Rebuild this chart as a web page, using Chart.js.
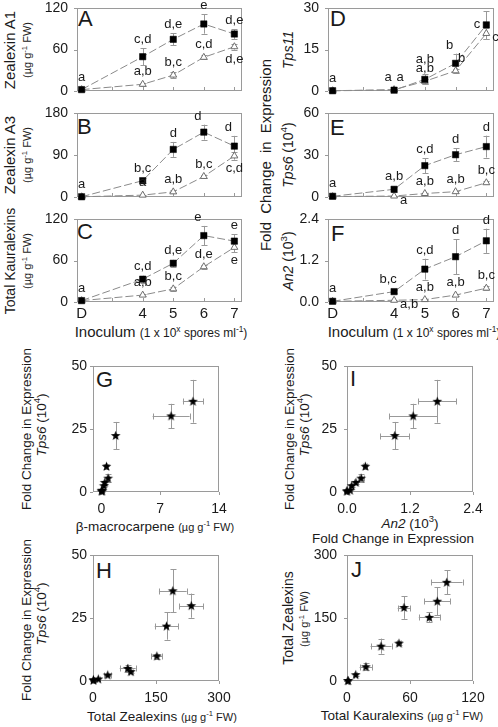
<!DOCTYPE html>
<html>
<head>
<meta charset="utf-8">
<script src="https://cdn.jsdelivr.net/npm/chart.js@4"></script>
<style>
body { margin: 0; background: #fff; font-family: "Liberation Sans", Arial, sans-serif; color: #1a1a1a; }
#fig { position: relative; width: 498px; height: 727px; overflow: hidden; }
canvas { position: absolute; }
.t { position: absolute; white-space: nowrap; transform: translate(-50%, -50%); line-height: 1.2; }
.v { transform: translate(-50%, -50%) rotate(-90deg); }
.sm { font-size: 11px; }
.lt { position: absolute; font-size: 22px; line-height: 1; }
sup { font-size: 70%; line-height: 0; }
</style>
</head>
<body>
<div id="fig">
  <!-- left column y titles -->
  <div class="t v" style="left:10px;top:50px;font-size:15px">Zealexin A1</div>
  <div class="t v sm" style="left:28px;top:50px">(µg g<sup>-1</sup> FW)</div>
  <div class="t v" style="left:10px;top:155px;font-size:15px">Zealexin A3</div>
  <div class="t v sm" style="left:28px;top:155px">(µg g<sup>-1</sup> FW)</div>
  <div class="t v" style="left:10px;top:261px;font-size:14px">Total Kauralexins</div>
  <div class="t v sm" style="left:28px;top:261px">(µg g<sup>-1</sup> FW)</div>
  <!-- right column y titles -->
  <div class="t v" style="left:266px;top:155px;font-size:15px;word-spacing:4px">Fold Change in Expression</div>
  <div class="t v" style="left:288px;top:50px;font-size:14px"><i>Tps11</i></div>
  <div class="t v" style="left:288px;top:155px;font-size:14px"><i>Tps6</i> (10<sup>4</sup>)</div>
  <div class="t v" style="left:288px;top:261px;font-size:14px"><i>An2</i> (10<sup>3</sup>)</div>
  <!-- inoculum titles -->
  <div class="t" style="left:161px;top:332px;font-size:15px">Inoculum <span style="font-size:12px">(1 x 10<sup>x</sup> spores ml<sup>-1</sup>)</span></div>
  <div class="t" style="left:414px;top:332px;font-size:15px">Inoculum <span style="font-size:12px">(1 x 10<sup>x</sup> spores ml<sup>-1</sup>)</span></div>
  <!-- scatter titles -->
  <div class="t v" style="left:27px;top:429px;font-size:13.5px">Fold Change in Expression</div>
  <div class="t v" style="left:42px;top:425px;font-size:13.5px"><i>Tps6</i> (10<sup>4</sup>)</div>
  <div class="t v" style="left:290px;top:429px;font-size:13.5px">Fold Change in Expression</div>
  <div class="t v" style="left:305px;top:425px;font-size:13.5px"><i>Tps6</i> (10<sup>4</sup>)</div>
  <div class="t v" style="left:27px;top:620px;font-size:13.5px">Fold Change in Expression</div>
  <div class="t v" style="left:42px;top:614px;font-size:13.5px"><i>Tps6</i> (10<sup>4</sup>)</div>
  <div class="t v" style="left:288px;top:618px;font-size:14px">Total Zealexins</div>
  <div class="t v sm" style="left:305px;top:619px">(µg g<sup>-1</sup> FW)</div>
  <div class="t" style="left:155px;top:527px;font-size:13.5px">β-macrocarpene <span class="sm">(µg g<sup>-1</sup> FW)</span></div>
  <div class="t" style="left:410px;top:524px;font-size:13.5px"><i>An2</i> (10<sup>3</sup>)</div>
  <div class="t" style="left:393px;top:539px;font-size:13.5px">Fold Change in Expression</div>
  <div class="t" style="left:162px;top:717px;font-size:13.5px">Total Zealexins <span class="sm">(µg g<sup>-1</sup> FW)</span></div>
  <div class="t" style="left:402px;top:716px;font-size:13.5px">Total Kauralexins <span class="sm">(µg g<sup>-1</sup> FW)</span></div>
  <!-- panel letters -->
  <div class="lt" style="left:78px;top:8px">A</div>
  <div class="lt" style="left:77px;top:116px">B</div>
  <div class="lt" style="left:77px;top:221px">C</div>
  <div class="lt" style="left:330px;top:8px">D</div>
  <div class="lt" style="left:330px;top:117px">E</div>
  <div class="lt" style="left:331px;top:223px">F</div>
  <div class="lt" style="left:96px;top:369px">G</div>
  <div class="lt" style="left:350px;top:368px">I</div>
  <div class="lt" style="left:96px;top:560px">H</div>
  <div class="lt" style="left:351px;top:559px">J</div>
</div>
<script>
// inoculum axis: 2 stands for D (mock), the rest are log10 spores per ml
const inoculum = [2, 4, 5, 6, 7];
const inoculumTicks = [2, 3, 4, 5, 6, 7];
const inoculumLabels = ['D', '', '4', '5', '6', '7'];

// A - zealexin A1
const a1Sq = [2, 49.6, 74.7, 96.9, 82.4];
const a1SqErr = [1, 12, 8.7, 14, 7];
const a1Tri = [2, 9.7, 23, 48.7, 64];
const a1TriErr = [1, 2, 4, 3, 4];
const a1SqLetters = ['a', 'c,d', 'd,e', 'e', 'd,e'];
const a1TriLetters = ['', 'a,b', 'b,c', 'c,d', 'd,e'];

// B - zealexin A3
const a3Sq = [0.5, 35, 102, 139, 109];
const a3SqErr = [0.5, 5, 16, 16, 22];
const a3Tri = [0.5, 4, 11, 44, 88];
const a3TriErr = [0.3, 1, 3, 4, 8];
const a3SqLetters = ['a', 'b,c', 'd', 'd', 'd'];
const a3TriLetters = ['', 'a', 'a,b', 'b,c', 'c,d'];

// C - total kauralexins
const kSq = [2, 33, 56, 96, 88];
const kSqErr = [1, 5, 5, 14, 10];
const kTri = [2, 10, 19, 51, 79];
const kTriErr = [1, 2, 3, 3, 7];
const kSqLetters = ['a', 'c,d', 'd,e', 'e', 'e'];
const kTriLetters = ['', 'a,b', 'b,c', 'd,e', 'e'];

// D - Tps11
const tps11Sq = [0.1, 0.3, 4.2, 10, 23.9];
const tps11SqErr = [0.1, 0.3, 1.8, 3.5, 5];
const tps11Tri = [0.1, 0.5, 3.5, 7.3, 20.8];
const tps11TriErr = [0.1, 0.3, 1, 0.8, 2];
const tps11SqLetters = ['a', 'a', 'a,b', 'b', 'c'];
const tps11TriLetters = ['', 'a', 'a,b', 'b', 'c'];

// E - Tps6 (x 10^4)
const tps6Sq = [0.5, 5.5, 22.4, 30.2, 36];
const tps6SqErr = [0.3, 2, 5.4, 4.8, 7.8];
const tps6Tri = [0.3, 0.7, 2.5, 3.8, 10.2];
const tps6TriErr = [0.2, 0.3, 0.5, 0.7, 1.2];
const tps6SqLetters = ['a', 'a,b', 'c,d', 'd', 'd'];
const tps6TriLetters = ['', 'a', 'a,b', 'a,b', 'b,c'];

// F - An2 (x 10^3)
const an2Sq = [0.02, 0.3, 0.95, 1.31, 1.77];
const an2SqErr = [0.01, 0.05, 0.3, 0.5, 0.35];
const an2Tri = [0.02, 0.05, 0.07, 0.2, 0.4];
const an2TriErr = [0.01, 0.02, 0.02, 0.04, 0.05];
const an2SqLetters = ['a', 'b,c', 'c,d', 'd', 'd'];
const an2TriLetters = ['', 'a,b', 'a,b', 'a,b', 'b,c'];

// scatter samples: squares D..7 then triangles D..7
const gMacro = [0.05, 0.8, 1.7, 8.3, 10.9, 0.05, 0.05, 0.3, 0.4, 0.6];
const gMacroErr = [0, 0.1, 0, 2.2, 1.2, 0, 0, 0, 0, 0.1];
const tps6All = [0.5, 5.5, 22.4, 30.2, 36, 0.3, 0.7, 2.5, 3.8, 10.2];
const tps6AllErr = [0.3, 1.5, 5.4, 4.8, 8.5, 0.2, 0.3, 0.5, 0.7, 1];
const iAn2 = [0, 0.27, 0.91, 1.26, 1.72, 0, 0.06, 0.09, 0.17, 0.35];
const iAn2Err = [0, 0.05, 0.28, 0.46, 0.36, 0, 0, 0.02, 0.03, 0.04];
const hZeal = [1, 82.6, 175, 234, 190, 1, 12.7, 35, 90, 152];
const hZealErr = [0.5, 19, 28, 29, 33, 0.5, 3, 8, 5, 13];
const hTps6 = [0.5, 5, 21.8, 29.9, 35.8, 0.3, 0.8, 2.4, 3.7, 9.9];
const jKaur = [1, 32.4, 54.3, 95, 86, 1, 8.3, 18, 49.5, 78.4];
const jKaurErr = [0.5, 10, 6, 15, 12.5, 0.5, 1.5, 6, 2, 10];
const jZeal = [1, 83, 175, 235, 190, 1, 15, 34, 90, 151.6];
const jZealErr = [0.5, 18, 27, 29, 33, 0.5, 3, 8, 5, 12];

const FONT = '"Liberation Sans", Arial, sans-serif';
const fig = document.getElementById('fig');

// filled star used as point marker
const star = document.createElement('canvas');
star.width = 11; star.height = 11;
(function () {
    const c = star.getContext('2d');
    c.beginPath();
    for (let k = 0; k < 10; k++) {
        const r = k % 2 ? 2.1 : 5.1;
        const a = -Math.PI / 2 + k * Math.PI / 5;
        c.lineTo(5.5 + r * Math.cos(a), 5.8 + r * Math.sin(a));
    }
    c.closePath();
    c.fillStyle = '#000';
    c.fill();
})();

// grey frame + small tick marks
const frame = {
    id: 'frame',
    beforeDatasetsDraw(chart) {
        const { ctx, chartArea: a, scales } = chart;
        const inward = chart.options.plugins.frame.inward;
        ctx.save();
        ctx.strokeStyle = '#9a9a9a';
        ctx.lineWidth = 1;
        ctx.strokeRect(a.left + 0.5, a.top + 0.5, a.right - a.left - 1, a.bottom - a.top - 1);
        ctx.beginPath();
        scales.x.ticks.forEach(t => {
            const x = Math.round(scales.x.getPixelForValue(t.value)) + 0.5;
            ctx.moveTo(x, a.bottom);
            ctx.lineTo(x, inward ? a.bottom - 4 : a.bottom + 3);
        });
        scales.y.ticks.forEach(t => {
            const y = Math.round(scales.y.getPixelForValue(t.value)) + 0.5;
            ctx.moveTo(a.left, y);
            ctx.lineTo(a.left - 3, y);
        });
        ctx.stroke();
        ctx.restore();
    }
};

// error bars in x and y
const errorBars = {
    id: 'errorBars',
    beforeDatasetsDraw(chart) {
        const { ctx, scales } = chart;
        ctx.save();
        ctx.strokeStyle = '#999';
        ctx.lineWidth = 1;
        chart.data.datasets.forEach((ds, i) => {
            chart.getDatasetMeta(i).data.forEach((pt, j) => {
                const d = ds.data[j];
                const ye = ds.yErr ? ds.yErr[j] : 0;
                const xe = ds.xErr ? ds.xErr[j] : 0;
                ctx.beginPath();
                if (ye) {
                    const y1 = scales.y.getPixelForValue(d.y + ye);
                    const y2 = scales.y.getPixelForValue(Math.max(d.y - ye, scales.y.min));
                    const x = Math.round(pt.x) + 0.5;
                    ctx.moveTo(x, y1); ctx.lineTo(x, y2);
                    ctx.moveTo(x - 3, Math.round(y1) + 0.5); ctx.lineTo(x + 3, Math.round(y1) + 0.5);
                    ctx.moveTo(x - 3, Math.round(y2) + 0.5); ctx.lineTo(x + 3, Math.round(y2) + 0.5);
                }
                if (xe) {
                    const x1 = scales.x.getPixelForValue(Math.max(d.x - xe, scales.x.min));
                    const x2 = scales.x.getPixelForValue(d.x + xe);
                    const y = Math.round(pt.y) + 0.5;
                    ctx.moveTo(x1, y); ctx.lineTo(x2, y);
                    ctx.moveTo(Math.round(x1) + 0.5, y - 3); ctx.lineTo(Math.round(x1) + 0.5, y + 3);
                    ctx.moveTo(Math.round(x2) + 0.5, y - 3); ctx.lineTo(Math.round(x2) + 0.5, y + 3);
                }
                ctx.stroke();
            });
        });
        ctx.restore();
    }
};

// significance letters next to the points
const letterMarks = {
    id: 'letterMarks',
    afterDatasetsDraw(chart) {
        const { ctx, scales } = chart;
        ctx.save();
        ctx.font = '13px ' + FONT;
        ctx.fillStyle = '#1a1a1a';
        chart.data.datasets.forEach((ds, i) => {
            if (!ds.letters) return;
            chart.getDatasetMeta(i).data.forEach((pt, j) => {
                const txt = ds.letters[j];
                if (!txt) return;
                const e = ds.yErr ? ds.yErr[j] : 0, v = ds.data[j].y;
                const top = Math.min(scales.y.getPixelForValue(v + e), pt.y - 4);
                const bot = Math.max(scales.y.getPixelForValue(v - e), pt.y + 4);
                const pos = ds.letterPos ? ds.letterPos[j] : 'u';
                let x = pt.x, y = top - 2, align = 'center', base = 'bottom';
                if (pos === 'u2') y = top - 8;
                if (pos === 'ul') x -= 6;
                if (pos === 'ur') x += 6;
                if (pos === 'd') { y = bot + 2; base = 'top'; }
                if (pos === 'l') { x -= 6; y = pt.y; align = 'right'; base = 'middle'; }
                if (pos === 'r') { x += 6; y = pt.y + 4; align = 'left'; base = 'middle'; }
                ctx.textAlign = align;
                ctx.textBaseline = base;
                ctx.fillText(txt, x, y);
            });
        });
        ctx.restore();
    }
};

function pts(xs, ys) {
    return xs.map((x, i) => ({ x: x, y: ys[i] }));
}

function squareSet(vals, err, letters, pos) {
    return {
        data: pts(inoculum, vals), yErr: err, letters: letters, letterPos: pos,
        showLine: true, borderColor: '#8a8a8a', borderWidth: 1, borderDash: [8, 3],
        pointStyle: 'rect', pointRadius: 4.5, backgroundColor: '#000', pointBorderColor: '#000',
        pointBorderWidth: 0.5, clip: false
    };
}

function triangleSet(vals, err, letters, pos) {
    return {
        data: pts(inoculum, vals), yErr: err, letters: letters, letterPos: pos,
        showLine: true, borderColor: '#8a8a8a', borderWidth: 1, borderDash: [8, 3],
        pointStyle: 'triangle', pointRadius: 4, backgroundColor: '#fff',
        pointBorderColor: '#6e6e6e', pointBorderWidth: 1, clip: false
    };
}

function starSet(xs, ys, xErr, yErr) {
    return { data: pts(xs, ys), xErr: xErr, yErr: yErr, pointStyle: star, pointRadius: 5, clip: false };
}

// rect = [left, top, right, bottom] of the plot box on the page
function panel(rect, cfg) {
    const padTop = 12, padRight = 14, yW = 45, xH = 30;
    const cv = document.createElement('canvas');
    cv.width = rect[2] - rect[0] + yW + padRight;
    cv.height = rect[3] - rect[1] + padTop + xH;
    cv.style.left = (rect[0] - yW) + 'px';
    cv.style.top = (rect[1] - padTop) + 'px';
    fig.appendChild(cv);
    new Chart(cv, {
        type: 'scatter',
        data: { datasets: cfg.datasets },
        options: {
            responsive: false,
            animation: false,
            events: [],
            layout: { padding: { left: 0, top: padTop, right: padRight, bottom: 0 } },
            plugins: {
                legend: { display: false },
                tooltip: { enabled: false },
                frame: { inward: cfg.inward }
            },
            scales: {
                x: {
                    type: 'linear', min: cfg.x[0], max: cfg.x[1],
                    grid: { display: false, drawTicks: false },
                    border: { display: false },
                    afterBuildTicks: s => { s.ticks = cfg.xTicks.map(v => ({ value: v })); },
                    afterFit: s => { s.height = xH; s.paddingLeft = 0; s.paddingRight = 0; },
                    ticks: {
                        display: cfg.xLabels !== false, autoSkip: false, maxRotation: 0,
                        padding: cfg.xPad || 3, color: '#1a1a1a',
                        font: { family: FONT, size: cfg.xFont || 14 },
                        callback: cfg.xFmt || (v => v)
                    }
                },
                y: {
                    type: 'linear', min: cfg.y[0], max: cfg.y[1],
                    grid: { display: false, drawTicks: false },
                    border: { display: false },
                    afterBuildTicks: s => { s.ticks = cfg.yTicks.map(v => ({ value: v })); },
                    afterFit: s => { s.width = yW; s.paddingTop = 0; s.paddingBottom = 0; },
                    ticks: {
                        padding: cfg.yPad || 9, color: '#1a1a1a',
                        font: { family: FONT, size: 14 },
                        callback: cfg.yFmt || (v => v)
                    }
                }
            }
        },
        plugins: [frame, errorBars, letterMarks]
    });
}

const doseFmt = v => inoculumLabels[inoculumTicks.indexOf(v)];

function dosePanel(rect, yMax, sq, tri, showX, yFmt) {
    panel(rect, {
        x: [1.85, 7.25], xTicks: inoculumTicks, xFmt: doseFmt, xLabels: showX, xFont: 15,
        y: [0, yMax], yTicks: [0, yMax / 2, yMax], yFmt: yFmt,
        inward: true, datasets: [sq, tri]
    });
}

dosePanel([77, 8, 242, 91], 120,
    squareSet(a1Sq, a1SqErr, a1SqLetters),
    triangleSet(a1Tri, a1TriErr, a1TriLetters, ['u', 'u', 'u', 'u', 'd']), false);
dosePanel([77, 113, 242, 197], 180,
    squareSet(a3Sq, a3SqErr, a3SqLetters, ['u', 'u', 'u', 'ul', 'ul']),
    triangleSet(a3Tri, a3TriErr, a3TriLetters, ['u', 'u', 'u', 'u', 'd']), false);
dosePanel([77, 219, 242, 302], 120,
    squareSet(kSq, kSqErr, kSqLetters, ['u', 'u', 'u', 'ul', 'u']),
    triangleSet(kTri, kTriErr, kTriLetters, ['u', 'u', 'u', 'u', 'd']), true);
dosePanel([328, 8, 494, 91], 30,
    squareSet(tps11Sq, tps11SqErr, tps11SqLetters, ['u', 'ul', 'u2', 'ul', 'l']),
    triangleSet(tps11Tri, tps11TriErr, tps11TriLetters, ['u', 'ur', 'u', 'ur', 'r']), false);
dosePanel([328, 113, 494, 197], 60,
    squareSet(tps6Sq, tps6SqErr, tps6SqLetters),
    triangleSet(tps6Tri, tps6TriErr, tps6TriLetters, ['u', 'r', 'u', 'u', 'u']), false);
dosePanel([328, 219, 494, 302], 2.4,
    squareSet(an2Sq, an2SqErr, an2SqLetters, ['u', 'ul', 'u', 'u', 'u']),
    triangleSet(an2Tri, an2TriErr, an2TriLetters, ['u', 'r', 'u', 'u', 'u']), true, v => v.toFixed(1));

// G: Tps6 vs beta-macrocarpene
panel([93, 366, 219, 492], {
    x: [-1, 14], xTicks: [0, 7, 14], xPad: 9, y: [0, 50], yTicks: [0, 25, 50], yPad: 6,
    datasets: [starSet(gMacro, tps6All, gMacroErr, tps6AllErr)]
});
// I: Tps6 vs An2
panel([347, 366, 473, 492], {
    x: [0, 2.4], xTicks: [0, 1.2, 2.4], xPad: 9, xFmt: v => v.toFixed(1),
    y: [0, 50], yTicks: [0, 25, 50], yPad: 10,
    datasets: [starSet(iAn2, tps6All, iAn2Err, tps6AllErr)]
});
// H: Tps6 vs total zealexins
panel([93, 555, 219, 681], {
    x: [0, 300], xTicks: [0, 150, 300], xPad: 9, y: [0, 50], yTicks: [0, 25, 50], yPad: 6,
    datasets: [starSet(hZeal, hTps6, hZealErr, tps6AllErr)]
});
// J: total zealexins vs total kauralexins
panel([347, 555, 473, 681], {
    x: [0, 120], xTicks: [0, 60, 120], xPad: 9, y: [0, 300], yTicks: [0, 150, 300], yPad: 10,
    datasets: [starSet(jKaur, jZeal, jKaurErr, jZealErr)]
});
</script>
</body>
</html>
